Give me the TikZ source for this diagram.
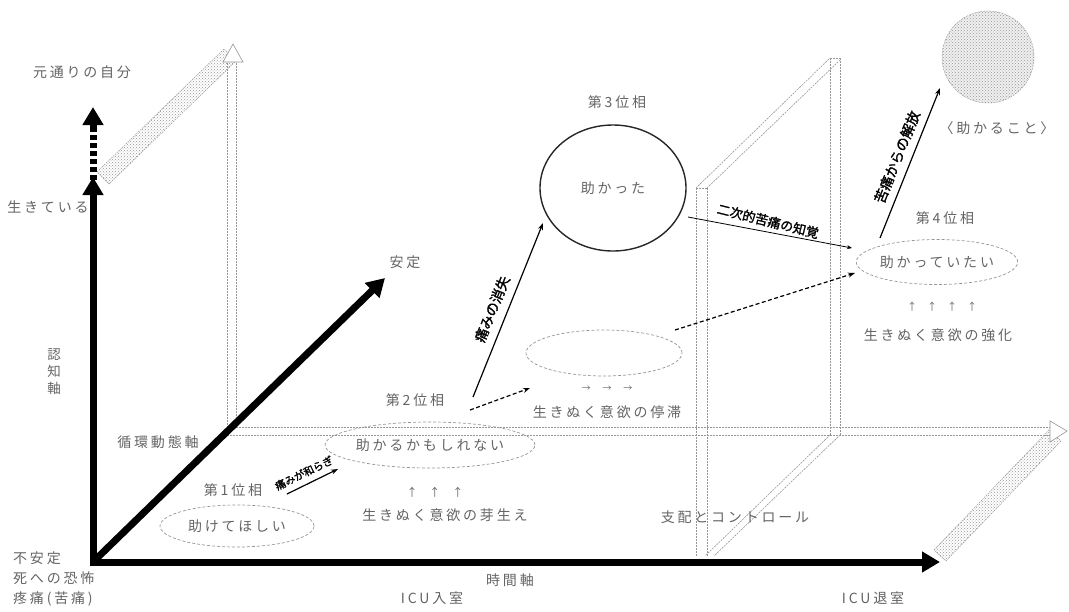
\documentclass[tikz,border=0pt]{standalone}
\usepackage{fontspec}
\newfontfamily\jp[LetterSpace=20]{Noto Sans CJK JP}
\newfontfamily\jpb[FakeBold=1.5]{Noto Sans CJK JP}
\usetikzlibrary{arrows.meta,patterns,shapes.geometric}
\definecolor{txt}{RGB}{100,100,100}
\definecolor{ln}{RGB}{150,150,150}
\begin{document}
\begin{tikzpicture}[x=1pt,y=-1pt,
  lbl/.style={font=\jp\fontsize{14}{16}\selectfont, text=txt, inner sep=0pt},
  albl/.style={font=\jpb\fontsize{12}{14}\selectfont, text=black, inner sep=0pt},
  phase/.style={ellipse, draw=ln, line width=0.7pt, dash pattern=on 3pt off 2pt, inner sep=0pt, font=\jp\fontsize{14}{16}\selectfont, text=txt},
  axisarrow/.style={line width=7pt, -{Triangle[length=18pt,width=20pt]}},
  fr/.style={draw=ln, line width=0.6pt, dash pattern=on 2pt off 1pt},
  band/.style={draw=ln, line width=0.5pt, dash pattern=on 1.5pt off 1pt, pattern=crosshatch dots, pattern color=ln},
  hollow/.style={draw=ln, fill=white, line width=0.6pt},
  conn/.style={line width=1.2pt, -{Stealth[length=7pt,width=5pt]}},
  dconn/.style={conn, dash pattern=on 4pt off 2.5pt},
]
\useasboundingbox (0,0) rectangle (1069,611);

% ---- back plane (left) ----
\draw[band] (97,172) -- (224,49) -- (236,61) -- (109,184) -- cycle;
\draw[fr] (227,60) -- (227,430);
\draw[fr] (236,60) -- (236,427);
\draw[hollow] (223,62) -- (233,44) -- (243,62) -- cycle;
% ---- back plane (bottom) ----
\draw[fr] (236,427) -- (1052,427);
\draw[fr] (227,435) -- (1052,435);
\draw[band] (934,550) -- (1049,430) -- (1061,441) -- (946,561) -- cycle;
\draw[hollow] (1050,421) -- (1067,431) -- (1050,442) -- cycle;
% ---- frame (right) ----
\draw[fr] (696,188) -- (696,557);
\draw[fr] (707,188) -- (707,557);
\draw[fr] (696,188) -- (707,188);
\draw[fr] (696,188) -- (830,58);
\draw[fr] (707,188) -- (840,60);
\draw[fr] (830,58) -- (840,58);
\draw[fr] (830,58) -- (830,435);
\draw[fr] (840,58) -- (840,435);
\draw[fr] (830,435) -- (705,556);
\draw[fr] (840,435) -- (714,556);

% ---- axes ----
\coordinate (O) at (93,562);
\coordinate (Ycorner) at (93,566);
\coordinate (Ymid) at (93,177);
\coordinate (Ydash) at (93,180);
\coordinate (Ydashend) at (93,126);
\coordinate (Yheadbase) at (93,128);
\coordinate (Ytop) at (93,107);
\coordinate (Xstart) at (89.5,562);
\coordinate (Xend) at (940,562);
\coordinate (Zend) at (385,278);
\draw[axisarrow] (Ycorner) -- (Ymid);
\draw[line width=7pt, dash pattern=on 5pt off 3pt] (Ydash) -- (Ydashend);
\draw[axisarrow] (Yheadbase) -- (Ytop);
\draw[axisarrow] (Xstart) -- (Xend);
\draw[axisarrow] (O) -- (Zend);

% ---- axis labels ----
\node[lbl] (orig) at (82,72) {元通りの自分};
\node[lbl] (alive) at (48,207) {生きている};
\node[lbl, align=center, font=\jp\fontsize{13.5}{17}\selectfont] (cog) at (54,372) {認\\知\\軸};
\node[lbl] (circ) at (158,442) {循環動態軸};
\node[lbl, anchor=north west, align=left, font=\jp\fontsize{14}{20}\selectfont] (base) at (13,552) {不安定\\死への恐怖\\疼痛(苦痛)};
\node[lbl] (safe) at (405,262) {安定};
\node[lbl] (time) at (510,580) {時間軸};
\node[lbl] (icuin) at (432,598) {ICU入室};
\node[lbl] (icuout) at (873,598) {ICU退室};
\node[lbl] (ctrl) at (735,517) {支配とコントロール};

% ---- phase 1 ----
\node[lbl] (p1) at (233,490) {第1位相};
\node[phase, minimum width=154, minimum height=42] (e1) at (237,526) {助けてほしい};
% ---- phase 2 ----
\node[lbl] (p2) at (415,400) {第2位相};
\node[phase, minimum width=180, minimum height=46] (e2) at (430,445) {助かるかもしれない};
\node[lbl, font=\jp\fontsize{11}{13}\selectfont] (up2) at (435,492) {↑\hspace{12pt}↑\hspace{12pt}↑};
\node[lbl] (w2) at (445,515) {生きぬく意欲の芽生え};
% ---- stagnation ----
\node[phase, minimum width=156, minimum height=46] (e3) at (604,353) {};
\node[lbl, font=\jp\fontsize{9}{11}\selectfont] (r3) at (607,389) {→\hspace{12pt}→\hspace{12pt}→};
\node[lbl] (w3) at (607,412) {生きぬく意欲の停滞};
% ---- phase 3 ----
\node[lbl] (p3) at (617,102) {第3位相};
\node[ellipse, draw=black!85, line width=1.4pt, minimum width=146, minimum height=126, inner sep=0pt, font=\jp\fontsize{14}{16}\selectfont, text=txt] (c3) at (613,188) {助かった};
% ---- phase 4 ----
\node[lbl] (p4) at (945,218) {第4位相};
\node[phase, minimum width=155, minimum height=45] (e4) at (937,262) {助かっていたい};
\node[lbl, font=\jp\fontsize{10}{12}\selectfont] (up4) at (942,307) {↑\hspace{10pt}↑\hspace{10pt}↑\hspace{10pt}↑};
\node[lbl] (w4) at (938,335) {生きぬく意欲の強化};
% ---- goal ----
\node[circle, minimum size=92, inner sep=0pt, draw=ln, dash pattern=on 2pt off 1pt, fill=gray!12, postaction={pattern=crosshatch dots, pattern color=ln}] (goal) at (988,57) {};
\node[lbl] (goallbl) at (997,128) {〈助かること〉};

% ---- connectors ----
\coordinate (a1s) at (287,494);
\coordinate (a1e) at (338,469);
\draw[conn] (a1s) -- (a1e);
\node[albl, rotate=26, font=\jpb\fontsize{10.5}{12}\selectfont] (l1) at (304,473) {痛みが和らぎ};

\coordinate (a2s) at (470,410);
\coordinate (a2e) at (530,388);
\draw[dconn] (a2s) -- (a2e);

\coordinate (a3s) at (473,397);
\coordinate (a3e) at (543,223);
\draw[conn] (a3s) -- (a3e);
\node[albl, rotate=68, font=\jpb\fontsize{14}{16}\selectfont] (l3) at (492,309) {痛みの消失};

\coordinate (a4s) at (675,330);
\coordinate (a4e) at (855,273);
\draw[dconn] (a4s) -- (a4e);

\coordinate (a5s) at (688,217);
\coordinate (a5e) at (852,248);
\draw[line width=0.8pt, -{Stealth[length=5pt,width=4pt]}] (a5s) -- (a5e);
\node[albl, rotate=-14, font=\jpb\fontsize{13}{15}\selectfont] (l5) at (768,221) {二次的苦痛の知覚};

\coordinate (a6s) at (880,238);
\coordinate (a6e) at (940,88);
\draw[conn] (a6s) -- (a6e);
\node[albl, rotate=68, font=\jpb\fontsize{14}{16}\selectfont] (l6) at (897,157) {苦痛からの解放};
\end{tikzpicture}
\end{document}
